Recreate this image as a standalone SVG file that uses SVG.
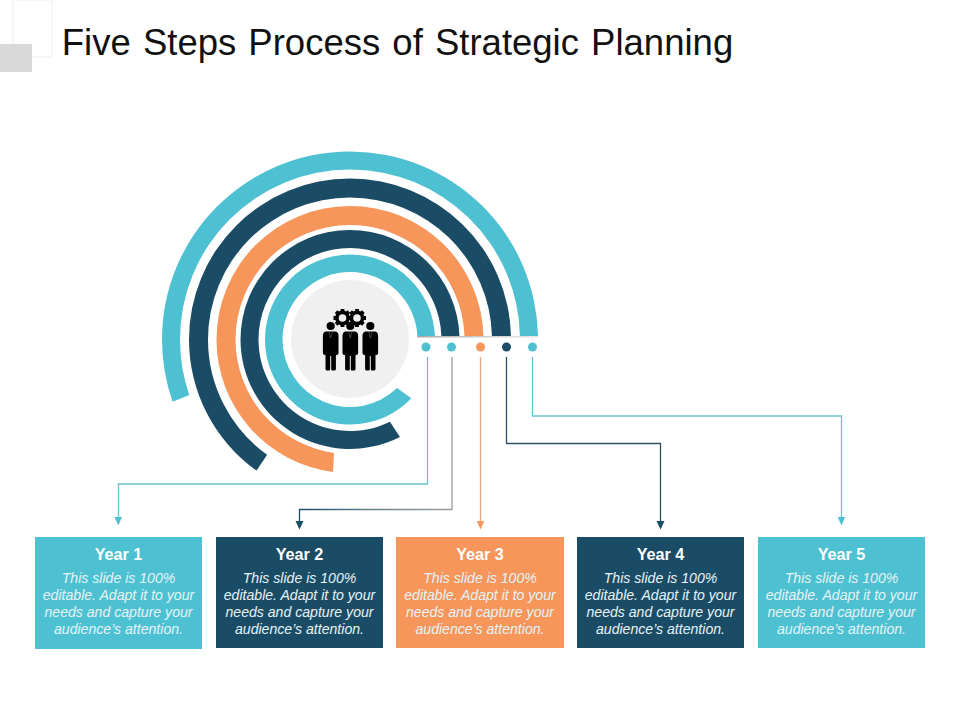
<svg xmlns="http://www.w3.org/2000/svg" width="960" height="720" viewBox="0 0 960 720">
<style>
text{font-family:"Liberation Sans",Arial,sans-serif;text-anchor:middle;fill:#fff}
.h{font-size:16.2px;font-weight:700}
.b{font-size:14.1px;font-style:italic;fill:#e6f3f6}
.t{fill:#4dc1d2}.n{fill:#1b4c66}.o{fill:#f6965b}
.body{fill:#000}
.lap{fill:none;stroke:#9a9a9a;stroke-width:.4}
</style>
<defs>
<linearGradient id="g" x1="0" x2="1" y1="0" y2="0"><stop offset="0" stop-color="#aaa"/><stop offset="1" stop-color="#e8e8e8"/></linearGradient>
<linearGradient id="c2" x1="0" x2="1" y1="0" y2="0"><stop offset="0" stop-color="#1b4c66"/><stop offset=".4" stop-color="#5f7b8a"/><stop offset="1" stop-color="#9a9fa3"/></linearGradient>
<g id="gear"><circle r="5.600" fill="none" stroke="#000" stroke-width="3.600"/><path d="M-1.900-9h3.800v3.500h-3.800zM-1.900 5.500h3.800v3.500h-3.800zM-9-1.900h3.500v3.800h-3.500zM5.500-1.900h3.500v3.800h-3.500z"/><path d="M-1.900-9h3.800v3.500h-3.800zM-1.900 5.500h3.800v3.500h-3.800zM-9-1.900h3.500v3.800h-3.500zM5.500-1.900h3.500v3.800h-3.500z" transform="rotate(45)"/></g>
<g id="man"><circle cx="0" cy="0" r="4.100"/><path d="M-5 5.500H5Q7.800 6 7.800 10V27Q7.800 29 6 29H5.200V43Q5.200 44.500 3.500 44.500H1.500Q.5 44.500 .5 43V30H-.5V43Q-.5 44.500-1.500 44.500H-3.500Q-5.200 44.500-5.200 43V29H-6Q-7.800 29-7.800 27V10Q-7.800 6-5 5.500Z"/><path class="lap" d="M-1.500 6L0 12L1.500 6"/></g>
</defs>
<rect x="13" y="0" width="39" height="57" fill="#fff" stroke="#eee"/>
<rect x="0" y="44" width="32" height="28" fill="#d9d9d9"/>
<text x="397.500" y="55" id="title" word-spacing="2" style="fill:#111;font-size:36.500px">Five Steps Process of Strategic Planning</text>
<g id="connectors" fill="none" stroke-width="1.300">
<rect x="417" y="336" width="121" height="1.500" fill="url(#g)"/>
<g stroke="#6cc3d1"><path d="M427.500 357V484H118.500V519"/><path d="M532.500 357V416H841.500V519"/></g>
<path d="M452 357V509.500H299.500V522" stroke="url(#c2)"/>
<path d="M506.500 357V443.500H660.500V522" stroke="#2a4f63"/>
<path d="M480.500 357V522" stroke="#f0a67c"/>
<path class="t" d="M114.500 517h7.500l-3.750 8.500z"/><path class="n" d="M295.500 521h8l-4 8.500z"/><path class="o" d="M476.800 521h7.500l-3.750 8.500z"/><path class="n" d="M656.500 521h8l-4 8.500z"/><path class="t" d="M837.700 517h7.500l-3.750 8.500z"/>
</g>
<g id="rings">
<path class="t" d="M537.970 336A188 188 0 0 0 350 151.500A188 188 0 0 0 162 339.500A188 188 0 0 0 172.620 401.800L189.280 394.900A170 170 0 0 1 180 339.500A170 170 0 0 1 350 169.500A170 170 0 0 1 519.960 336Z"/>
<path class="n" d="M510.960 336A161 161 0 0 0 350 178.500A161 161 0 0 0 189 339.500A161 161 0 0 0 256.560 470.610L267.120 454.830A142 142 0 0 1 208 339.500A142 142 0 0 1 350 197.500A142 142 0 0 1 491.960 336Z"/>
<path class="o" d="M483.450 336A133.500 133.500 0 0 0 350 206A133.500 133.500 0 0 0 216.500 339.500A133.500 133.500 0 0 0 333.010 471.910L334.010 452.900A114.500 114.500 0 0 1 235.500 339.500A114.500 114.500 0 0 1 350 225A114.500 114.500 0 0 1 464.450 336Z"/>
<path class="n" d="M459.440 336A109.500 109.500 0 0 0 350 230A109.500 109.500 0 0 0 240.500 339.500A109.500 109.500 0 0 0 399.960 436.900L389.910 421.820A91.500 91.500 0 0 1 258.500 339.500A91.500 91.500 0 0 1 350 248A91.500 91.500 0 0 1 441.430 336Z"/>
<path class="t" d="M434.930 336A85 85 0 0 0 350 254.500A85 85 0 0 0 265 339.500A85 85 0 0 0 411.360 398.350L397 388A67.500 67.500 0 0 1 282.500 339.500A67.500 67.500 0 0 1 350 272A67.500 67.500 0 0 1 417.410 336Z"/>
</g>
<g id="dots"><circle class="t" cx="426" cy="347" r="4.500"/><circle class="t" cx="451.500" cy="347" r="4.500"/><circle class="o" cx="480.500" cy="347" r="4.500"/><circle class="n" cx="506.500" cy="347" r="4.500"/><circle class="t" cx="532.500" cy="347" r="4.500"/></g>
<g id="hub"><circle cx="350" cy="339" r="59" fill="#f0f0f0"/>
<g class="body"><use href="#gear" x="342.500" y="318"/><use href="#gear" x="357" y="318"/><use href="#man" x="330.700" y="326"/><use href="#man" x="350.300" y="326"/><use href="#man" x="370.300" y="326"/></g></g>
<g id="year1"><rect class="t" x="35" y="537" width="167" height="112"/><text class="h" x="118.500" y="560">Year 1</text><text class="b" x="118.500" y="583">This slide is 100%</text><text class="b" x="118.500" y="600">editable. Adapt it to your</text><text class="b" x="118.500" y="617">needs and capture your</text><text class="b" x="118.500" y="634">audience’s attention.</text></g>
<g id="year2"><rect class="n" x="216" y="537" width="167" height="111"/><text class="h" x="299.500" y="560">Year 2</text><text class="b" x="299.500" y="583">This slide is 100%</text><text class="b" x="299.500" y="600">editable. Adapt it to your</text><text class="b" x="299.500" y="617">needs and capture your</text><text class="b" x="299.500" y="634">audience’s attention.</text></g>
<g id="year3"><rect class="o" x="396" y="537" width="168" height="111"/><text class="h" x="480" y="560">Year 3</text><text class="b" x="480" y="583">This slide is 100%</text><text class="b" x="480" y="600">editable. Adapt it to your</text><text class="b" x="480" y="617">needs and capture your</text><text class="b" x="480" y="634">audience’s attention.</text></g>
<g id="year4"><rect class="n" x="577" y="537" width="167" height="111"/><text class="h" x="660.500" y="560">Year 4</text><text class="b" x="660.500" y="583">This slide is 100%</text><text class="b" x="660.500" y="600">editable. Adapt it to your</text><text class="b" x="660.500" y="617">needs and capture your</text><text class="b" x="660.500" y="634">audience’s attention.</text></g>
<g id="year5"><rect class="t" x="758" y="537" width="167" height="111"/><text class="h" x="841.500" y="560">Year 5</text><text class="b" x="841.500" y="583">This slide is 100%</text><text class="b" x="841.500" y="600">editable. Adapt it to your</text><text class="b" x="841.500" y="617">needs and capture your</text><text class="b" x="841.500" y="634">audience’s attention.</text></g>
</svg>
